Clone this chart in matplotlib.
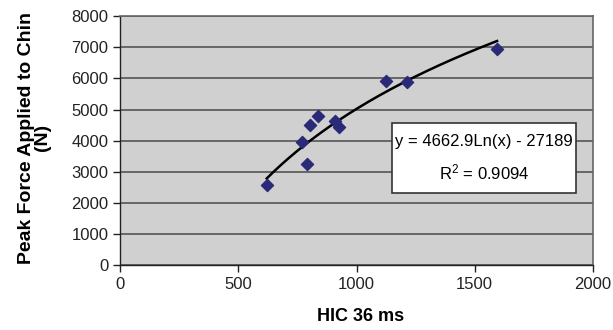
import numpy as np
from matplotlib import pyplot as plt
from matplotlib.patches import Rectangle

plt.rcParams['font.family'] = ['Liberation Sans', 'DejaVu Sans']

# measured points
hic = [620, 770, 790, 805, 837, 908, 926, 1123, 1215, 1595]
force = [2580, 3960, 3240, 4490, 4800, 4620, 4450, 5930, 5880, 6950]

# log trendline y = a ln(x) + b
coef_a = 4662.9
coef_b = -27189
r2 = 0.9094

fig = plt.figure(figsize=(6.13, 3.30), dpi=100)
ax = fig.add_axes([0.1963, 0.1955, 0.7706, 0.756])
ax.set_facecolor('#d0d0d0')

ax.set_xlim(0, 2000)
ax.set_ylim(0, 8000)
ax.set_xticks(range(0, 2001, 500))
ax.set_yticks(range(0, 8001, 1000))
ax.yaxis.grid(True, color='#555555', linewidth=1.2)
ax.set_axisbelow(True)

for s in ['top', 'right']:
    ax.spines[s].set_color('#666666')
    ax.spines[s].set_linewidth(1.2)
for s in ['left', 'bottom']:
    ax.spines[s].set_color('#222222')
    ax.spines[s].set_linewidth(1.0)

xs = np.linspace(min(hic), max(hic), 200)
ax.plot(xs, coef_a * np.log(xs) + coef_b, color='black', linewidth=1.8, zorder=3)
ax.scatter(hic, force, marker='D', s=38, color='#2b2a78', zorder=4)

ax.tick_params(labelsize=12, length=5, width=1, colors='#222222')
ax.set_xlabel('HIC 36 ms', fontsize=13, fontweight='bold')
ax.xaxis.set_label_coords(0.5075, -0.17)
ax.set_ylabel('Peak Force Applied to Chin\n(N)', fontsize=14, fontweight='bold',
              linespacing=0.9)
ax.yaxis.set_label_coords(-0.147, 0.513)

# equation box
ax.add_patch(Rectangle((0.575, 0.2906), 0.3896, 0.2804, transform=ax.transAxes,
                       facecolor='white', edgecolor='#333333', linewidth=1.2, zorder=5))
ax.text(0.77, 0.496, 'y = 4662.9Ln(x) - 27189', transform=ax.transAxes,
        ha='center', va='center', fontsize=12, zorder=6)
ax.text(0.77, 0.3735, '$\\mathregular{R^2}$ = ' + str(r2), transform=ax.transAxes,
        ha='center', va='center', fontsize=12, zorder=6)

fig.savefig('out.png', dpi=100)
